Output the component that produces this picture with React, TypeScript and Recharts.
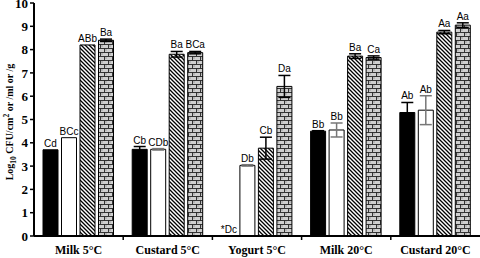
import { BarChart, Bar, XAxis, YAxis, ErrorBar, LabelList } from "recharts";

const categories = ["Milk 5°C", "Custard 5°C", "Yogurt 5°C", "Milk 20°C", "Custard 20°C"];

const blackVals = [3.7, 3.72, 0, 4.5, 5.3];
const blackErr = [0, 0.12, 0, 0.02, 0.43];
const blackLabels = ["Cd", "Cb", "*Dc", "Bb", "Ab"];

const whiteVals = [4.22, 3.72, 3.03, 4.55, 5.4];
const whiteErr = [0, 0.03, 0.03, 0.3, 0.62];
const whiteLabels = ["BCc", "CDb", "Db", "Bb", "Ab"];

const hatchVals = [8.2, 7.8, 3.77, 7.72, 8.75];
const hatchErr = [0, 0.12, 0.47, 0.1, 0.07];
const hatchLabels = ["ABb", "Ba", "Cb", "Ba", "Aa"];

const brickVals = [8.4, 7.87, 6.42, 7.66, 9.05];
const brickErr = [0.05, 0.05, 0.47, 0.07, 0.1];
const brickLabels = ["Ba", "BCa", "Da", "Ca", "Aa"];

const yTicks = [0, 1, 2, 3, 4, 5, 6, 7, 8, 9, 10];

const data = categories.map((name, i) => ({
	name,
	black: blackVals[i],
	blackErr: blackErr[i],
	blackLabel: blackLabels[i],
	white: whiteVals[i],
	whiteErr: whiteErr[i],
	whiteLabel: whiteLabels[i],
	hatch: hatchVals[i],
	hatchErr: hatchErr[i],
	hatchLabel: hatchLabels[i],
	brick: brickVals[i],
	brickErr: brickErr[i],
	brickLabel: brickLabels[i],
}));

const W = 480;
const H = 258;
const TOP = 3;
const Y_AXIS_W = 34;
const X_AXIS_H = 22;
const PLOT_H = H - TOP - X_AXIS_H;
const PX_PER_UNIT = PLOT_H / 10;
const BAND = (W - Y_AXIS_W) / categories.length;
const SERIF = "Liberation Serif, Times New Roman, serif";
const SANS = "Liberation Sans, Arial, sans-serif";

function makeLabel(errs: number[]) {
	return (props: any) => {
		const { x, y, width, value, index } = props;
		const e = errs[index] ?? 0;
		const yy = Number.isFinite(Number(y)) ? Number(y) : TOP + PLOT_H;
		return (
			<text
				x={Number(x) + Number(width) / 2}
				y={yy - e * PX_PER_UNIT - 3}
				textAnchor="middle"
				fontSize={10}
				fontFamily={SANS}
				fill="#000"
			>
				{value}
			</text>
		);
	};
}

function XTick(props: any) {
	const { x, payload, index } = props;
	const base = TOP + PLOT_H;
	return (
		<g>
			{index > 0 && (
				<line x1={x - BAND / 2} x2={x - BAND / 2} y1={base} y2={base + 4} stroke="#000" strokeWidth={1.5} />
			)}
			<text x={x} y={base + 18} textAnchor="middle" fontSize={12} fontWeight="bold" fontFamily={SERIF} fill="#000">
				{payload.value}
			</text>
		</g>
	);
}

function YLabel() {
	const cx = 13;
	const cy = 122;
	return (
		<text
			transform={`translate(${cx},${cy}) rotate(-90)`}
			textAnchor="middle"
			fontSize={10}
			fontWeight="bold"
			fontFamily={SERIF}
			fill="#000"
		>
			Log
			<tspan fontSize={7.5} dy={2.5}>10</tspan>
			<tspan dy={-2.5}> CFU/cm</tspan>
			<tspan fontSize={7.5} dy={-4}>2</tspan>
			<tspan dy={4}> or /ml or /g</tspan>
		</text>
	);
}

export default function App() {
	return (
		<div style={{ position: "absolute", left: 0, top: 0, width: W, height: H, background: "#fff" }}>
			<BarChart
				width={W}
				height={H}
				data={data}
				margin={{ top: TOP, right: 0, bottom: 0, left: 0 }}
				barSize={15}
				barGap={3.5}
			>
				<defs>
					<pattern id="hatch" patternUnits="userSpaceOnUse" width={4} height={4}>
						<rect width={4} height={4} fill="#fff" />
						<path d="M-1,-1 L5,5 M-1,3 L1,5 M3,-1 L5,1" stroke="#000" strokeWidth={1.3} />
					</pattern>
					<pattern id="brick" patternUnits="userSpaceOnUse" width={8} height={8}>
						<rect width={8} height={8} fill="#cfcfcf" />
						<circle cx={2} cy={2} r={0.7} fill="#888" />
						<circle cx={6} cy={6} r={0.7} fill="#888" />
						<path d="M0,0.5 H8 M0,4.5 H8 M0.5,0.5 V4.5 M4.5,4.5 V8.5" stroke="#222" strokeWidth={0.9} />
					</pattern>
				</defs>
				<XAxis
					dataKey="name"
					height={X_AXIS_H}
					axisLine={{ stroke: "#000", strokeWidth: 2 }}
					tickLine={false}
					tick={<XTick />}
					interval={0}
				/>
				<YAxis
					width={Y_AXIS_W}
					domain={[0, 10]}
					ticks={yTicks}
					interval={0}
					axisLine={{ stroke: "#000", strokeWidth: 2 }}
					tickLine={{ stroke: "#000", strokeWidth: 1.5 }}
					tickSize={4}
					tickMargin={2}
					tick={{ fontSize: 13, fontWeight: "bold", fontFamily: SERIF, fill: "#000" }}
					label={<YLabel />}
				/>
				<Bar dataKey="black" fill="#000" stroke="#000" minPointSize={0.01} isAnimationActive={false}>
					<ErrorBar dataKey="blackErr" stroke="#000" width={6} />
					<LabelList dataKey="blackLabel" content={makeLabel(blackErr)} />
				</Bar>
				<Bar dataKey="white" fill="#fff" stroke="#000" isAnimationActive={false}>
					<ErrorBar dataKey="whiteErr" stroke="#777" width={6} />
					<LabelList dataKey="whiteLabel" content={makeLabel(whiteErr)} />
				</Bar>
				<Bar dataKey="hatch" fill="url(#hatch)" stroke="#000" isAnimationActive={false}>
					<ErrorBar dataKey="hatchErr" stroke="#000" width={6} />
					<LabelList dataKey="hatchLabel" content={makeLabel(hatchErr)} />
				</Bar>
				<Bar dataKey="brick" fill="url(#brick)" stroke="#000" isAnimationActive={false}>
					<ErrorBar dataKey="brickErr" stroke="#000" width={6} />
					<LabelList dataKey="brickLabel" content={makeLabel(brickErr)} />
				</Bar>
			</BarChart>
		</div>
	);
}
